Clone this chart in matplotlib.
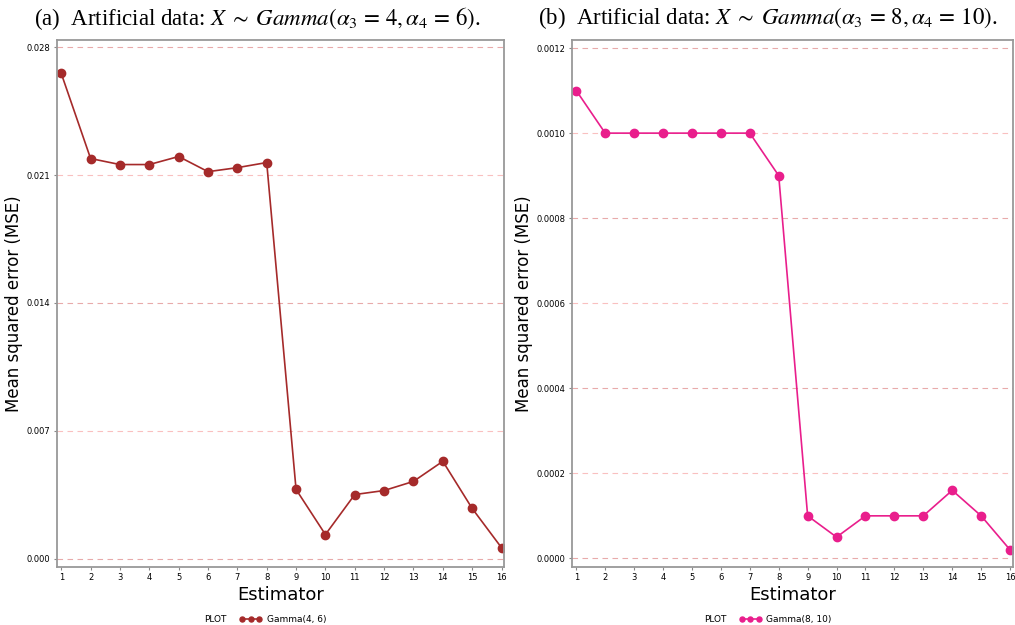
import numpy as np
import matplotlib.pyplot as plt

estimators = np.arange(1, 17)
mse_a = [0.02657, 0.02191, 0.02158, 0.02158, 0.02202, 0.02119, 0.02141, 0.02169,
         0.00379, 0.00132, 0.00351, 0.00373, 0.00423, 0.00533, 0.00275, 0.00060]
mse_b = [0.0011, 0.0010, 0.0010, 0.0010, 0.0010, 0.0010, 0.0010, 0.0009,
         0.0001, 0.00005, 0.0001, 0.0001, 0.0001, 0.00016, 0.0001, 0.00002]
yticks_a = [0.000, 0.007, 0.014, 0.021, 0.028]
yticks_b = [0.0000, 0.0002, 0.0004, 0.0006, 0.0008, 0.0010, 0.0012]

plt.rcParams['mathtext.fontset'] = 'stix'

fig = plt.figure(figsize=(10.15, 6.25), dpi=100)
ax1 = fig.add_axes([0.056, 0.093, 0.441, 0.843])
ax2 = fig.add_axes([0.5635, 0.093, 0.4345, 0.843])


def style(ax, y, yticks, fmt, color, label, title, title_x, ylim, legend_x):
    ax.plot(estimators, y, '-o', color=color, lw=1.2, ms=6, label=label)
    ax.set_xlim(0.85, 16.1)
    ax.set_ylim(*ylim)
    ax.set_xticks(estimators)
    ax.set_yticks(yticks)
    ax.set_yticklabels([fmt.format(v) for v in yticks])
    ax.tick_params(labelsize=6, length=2.5, pad=2, color='#888888')
    for i, v in enumerate(yticks):
        ax.axhline(v, color='#e8aaaa' if i % 2 == 0 else '#f9c0c0',
                   lw=0.8, ls=(0, (5, 4)), zorder=0)
    for s in ax.spines.values():
        s.set_color('#999999')
        s.set_linewidth(1.3)
    ax.set_xlabel('Estimator', fontsize=13, labelpad=3)
    ax.set_ylabel('Mean squared error (MSE)', fontsize=12, labelpad=3)
    fig.text(title_x, 0.971, title, fontsize=16.5, family='Liberation Serif',
             ha='center', va='center')
    ax.legend(loc='center left', bbox_to_anchor=(legend_x, -0.1),
              frameon=False, fontsize=6.5, numpoints=3, handlelength=2.5,
              markerscale=0.6, handletextpad=0.5)
    ax.text(legend_x - 0.06, -0.1, 'PLOT', transform=ax.transAxes,
            fontsize=6.5, ha='left', va='center')


style(ax1, mse_a, yticks_a, '{:.3f}', '#a52a2a', 'Gamma(4, 6)',
      r'(a)  Artificial data: $X\;\sim\;\mathit{Gamma}(\alpha_3\,=\,4,\alpha_4\,=\,6)$.',
      0.254, (-0.00045, 0.0284), 0.39)
style(ax2, mse_b, yticks_b, '{:.4f}', '#e91e8c', 'Gamma(8, 10)',
      r'(b)  Artificial data: $X\;\sim\;\mathit{Gamma}(\alpha_3\,=\,8,\alpha_4\,=\,10)$.',
      0.756, (-0.00002, 0.001219), 0.36)

fig.savefig('out.png', dpi=100)
